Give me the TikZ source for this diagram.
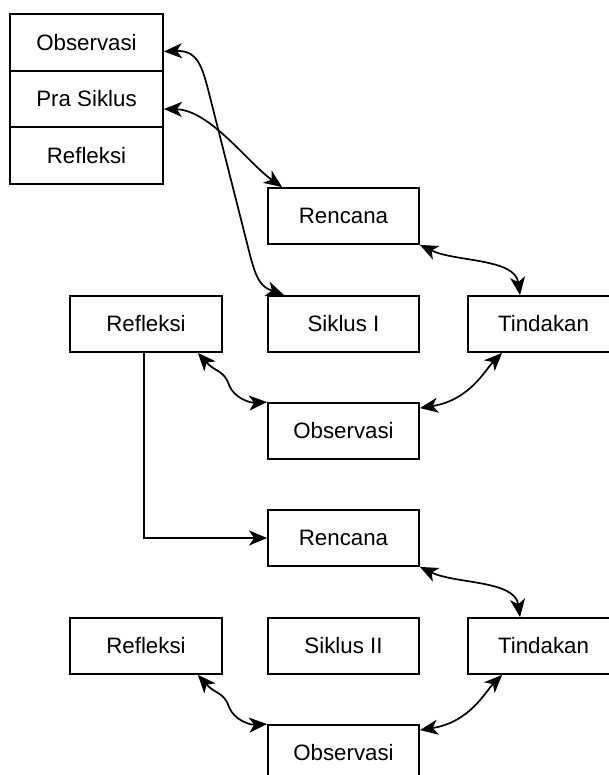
\documentclass[tikz,border=0pt]{standalone}
\usepackage{fontspec}
\setmainfont{Liberation Sans}
\usetikzlibrary{arrows.meta}
\tikzset{
  box/.style={draw, line width=1.8pt, minimum width=151pt, minimum height=56pt,
    inner sep=0pt, font=\fontsize{22.3}{26}\selectfont},
  link/.style={line width=1.7pt, {Stealth[length=18pt,width=15pt,inset=5pt]}-{Stealth[length=18pt,width=15pt,inset=5pt]}},
  single/.style={line width=1.7pt, -{Stealth[length=18pt,width=15pt,inset=5pt]}}
}
\newcommand\drawcycle[3]{%
\begin{scope}[shift={(0,#2)}]
\node[box] (ren#1) at (343.5,216) {Rencana};
\node[box] (sik#1) at (343.5,324) {#3};
\node[box] (tin#1) at (543.5,324) {Tindakan};
\node[box, minimum width=152pt] (ref#1) at (146,324) {Refleksi};
\node[box] (obs#1) at (343.5,431) {Observasi};
\draw[link] (ren#1.south east) .. controls (455,262) and (515,258) .. ([xshift=-23.5pt]tin#1.north);
\draw[link] ([xshift=-25pt]ref#1.south east) .. controls (215,372) and (224,370) .. (229,385) .. controls (234,398) and (250,403) .. (obs#1.north west);
\draw[link] ([xshift=35pt]tin#1.south west) .. controls (485,370) and (470,400) .. ([yshift=-6pt]obs#1.north east);
\end{scope}}
\begin{document}
\begin{tikzpicture}[x=1pt,y=-1pt]
\useasboundingbox (0,0) rectangle (609,775);
\clip (0,0) rectangle (609,775);
\fill[white] (0,0) rectangle (609,775);
% top-left stack
\node[box, minimum width=153pt, minimum height=56.5pt] (obs0) at (86.5,42.5) {Observasi};
\node[box, minimum width=153pt, minimum height=56.5pt] (pra0) at (86.5,99) {Pra Siklus};
\node[box, minimum width=153pt, minimum height=56.5pt] (ref0) at (86.5,155.5) {Refleksi};
% cycles
\drawcycle{1}{0}{Siklus I}
\drawcycle{2}{322}{Siklus II}
% links from stack
\draw[link] ([yshift=-9pt]obs0.east) .. controls (200,50) and (203,70) .. (212,105) -- (250,255) .. controls (257,282) and (262,287) .. ([xshift=17pt]sik1.north west);
\draw[link] ([yshift=-10pt]pra0.east) .. controls (210,110) and (248,163) .. ([xshift=15pt]ren1.north west);
% Refleksi I to Rencana II
\draw[single] ([xshift=-2pt]ref1.south) |- (ren2.west);
\end{tikzpicture}
\end{document}
